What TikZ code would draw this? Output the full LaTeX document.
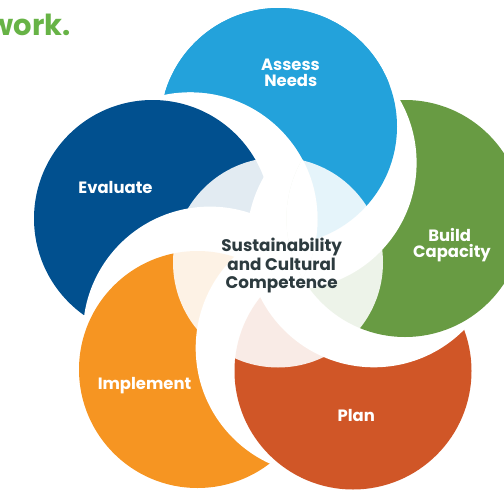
\documentclass[tikz,border=0pt]{standalone}
\usepackage{fontspec}
\setmainfont{Poppins}
\definecolor{cA}{HTML}{23A2DB}
\definecolor{cB}{HTML}{689B43}
\definecolor{cP}{HTML}{D05627}
\definecolor{cI}{HTML}{F69522}
\definecolor{cE}{HTML}{01508F}
\definecolor{cG}{HTML}{67B346}
\definecolor{cT}{HTML}{2D3B3F}
\begin{document}
\begin{tikzpicture}[x=1pt,y=-1pt,
  lbl/.style={font=\fontsize{16.4}{16}\selectfont\bfseries, text=white, inner sep=0pt, anchor=base},
  ctr/.style={font=\fontsize{16.8}{16}\selectfont\bfseries, text=cT, inner sep=0pt, anchor=base},
  halo/.style={fill=white}]
\useasboundingbox (0,0) rectangle (504,490);
\clip (0,0) rectangle (504,490);
% centres of the coloured discs and of their white shadows
\coordinate (A)  at (278.5,126.5); \coordinate (WA) at (289.6,162.8);
\coordinate (B)  at (405,218.5);   \coordinate (WB) at (373.9,240.3);
\coordinate (P)  at (353,371);     \coordinate (WP) at (322.7,348.1);
\coordinate (I)  at (197.5,369.5); \coordinate (WI) at (209.9,333.6);
\coordinate (E)  at (152.5,218.5); \coordinate (WE) at (190.5,219.2);
\coordinate (C)  at (278,262.5);
% discs, each one over its clockwise neighbour
\fill[halo] (WA) circle[radius=127pt]; \fill[cA] (A) circle[radius=118.5pt];
\fill[halo] (WE) circle[radius=127pt]; \fill[cE] (E) circle[radius=118.5pt];
\fill[halo] (WI) circle[radius=127pt]; \fill[cI] (I) circle[radius=118.5pt];
\fill[halo] (WP) circle[radius=127pt]; \fill[cP] (P) circle[radius=118.5pt];
\fill[halo] (WB) circle[radius=127pt]; \fill[cB] (B) circle[radius=118.5pt];
% close the ring: Assess over Build, but outside the shadow of Evaluate
\begin{scope}
  \clip (504,0) -- (0,0) -- (0,92.2) -- (190.5,92.2)
        arc[start angle=90, end angle=-70, radius=127pt] -- (504,338.5) -- cycle;
  \fill[halo] (WA) circle[radius=127pt]; \fill[cA] (A) circle[radius=118.5pt];
\end{scope}
% the shadow of Evaluate stays above Build in the middle
\begin{scope}
  \clip (B) circle[radius=118.5pt];
  \fill[halo] (WE) circle[radius=127pt];
\end{scope}
% pale centre
\fill[white, opacity=0.886] (C) circle[radius=105pt];
% labels
\node[lbl] (tA1) at (290.5,70) {Assess};
\node[lbl] (tA2) at (290.8,86.7) {Needs};
\node[lbl] (tE) at (115.5,193.3) {Evaluate};
\node[lbl] (tB1) at (449.7,241.5) {Build};
\node[lbl] (tB2) at (452,257.5) {Capacity};
\node[lbl] (tP) at (356.2,421.2) {Plan};
\node[lbl] (tI) at (144.5,389.5) {Implement};
\node[ctr] (tC1) at (281.7,251.3) {Sustainability};
\node[ctr] (tC2) at (281.7,270) {and Cultural};
\node[ctr] (tC3) at (281.7,288.7) {Competence};
\node[font=\fontsize{29}{29}\selectfont\bfseries, text=cG, inner sep=0pt, anchor=base east] (tW) at (71,35) {work.};
\end{tikzpicture}
\end{document}
